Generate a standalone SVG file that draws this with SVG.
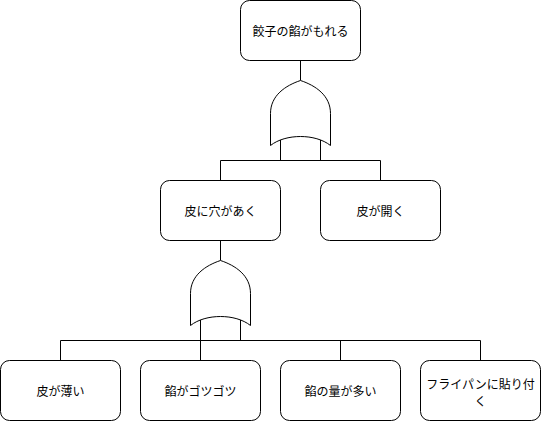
<svg xmlns="http://www.w3.org/2000/svg" width="541" height="421" viewBox="0 0 541 421">
<style>
.box{fill:#fff;stroke:#000;stroke-width:1}
.gate{fill:#fff;stroke:#000;stroke-width:1}
.ln{fill:none;stroke:#000;stroke-width:1}
text{font-family:"Noto Sans CJK JP","Noto Sans",sans-serif;font-size:12px;fill:#000;text-anchor:middle;dominant-baseline:central}
</style>
<defs>
<path id="orgate" d="M270,145 L270,113 C270,95 285,85 300,80 C315,85 330,95 330,113 L330,145 C315,133 285,133 270,145 Z"/>
</defs>
<rect width="541" height="421" fill="#fff"/>
<g id="connectors">
<path class="ln" d="M300.5,60.5 V80.5"/>
<path class="ln" d="M280.5,139 V160.5 M320.5,139 V160.5 M220.5,160.5 H380.5 M220.5,160.5 V180.5 M380.5,160.5 V180.5"/>
<path class="ln" d="M220.5,240.5 V260.5"/>
<path class="ln" d="M200.5,319 V360.5 M240.5,319 V340.5 M60.5,340.5 H480.5 M60.5,340.5 V360.5 M340.5,340.5 V360.5 M480.5,340.5 V360.5"/>
</g>
<g id="gate1"><use href="#orgate" class="gate" transform="translate(0.5,0.5)"/></g>
<g id="gate2"><use href="#orgate" class="gate" transform="translate(-79.5,180.5)"/></g>
<g id="n1"><rect class="box" x="240.5" y="0.5" width="120" height="60" rx="9"/><text x="300.5" y="30.5">餃子の餡がもれる</text></g>
<g id="n2"><rect class="box" x="160.5" y="180.5" width="120" height="60" rx="9"/><text x="220.5" y="210.5">皮に穴があく</text></g>
<g id="n3"><rect class="box" x="320.5" y="180.5" width="120" height="60" rx="9"/><text x="380.5" y="210.5">皮が開く</text></g>
<g id="n4"><rect class="box" x="0.5" y="360.5" width="120" height="60" rx="9"/><text x="60.5" y="390.5">皮が薄い</text></g>
<g id="n5"><rect class="box" x="140.5" y="360.5" width="120" height="60" rx="9"/><text x="200.5" y="390.5">餡がゴツゴツ</text></g>
<g id="n6"><rect class="box" x="280.5" y="360.5" width="120" height="60" rx="9"/><text x="340.5" y="390.5">餡の量が多い</text></g>
<g id="n7"><rect class="box" x="420.5" y="360.5" width="120" height="60" rx="9"/><text x="480.5" y="383">フライパンに貼り付</text><text x="480.5" y="400">く</text></g>
</svg>
